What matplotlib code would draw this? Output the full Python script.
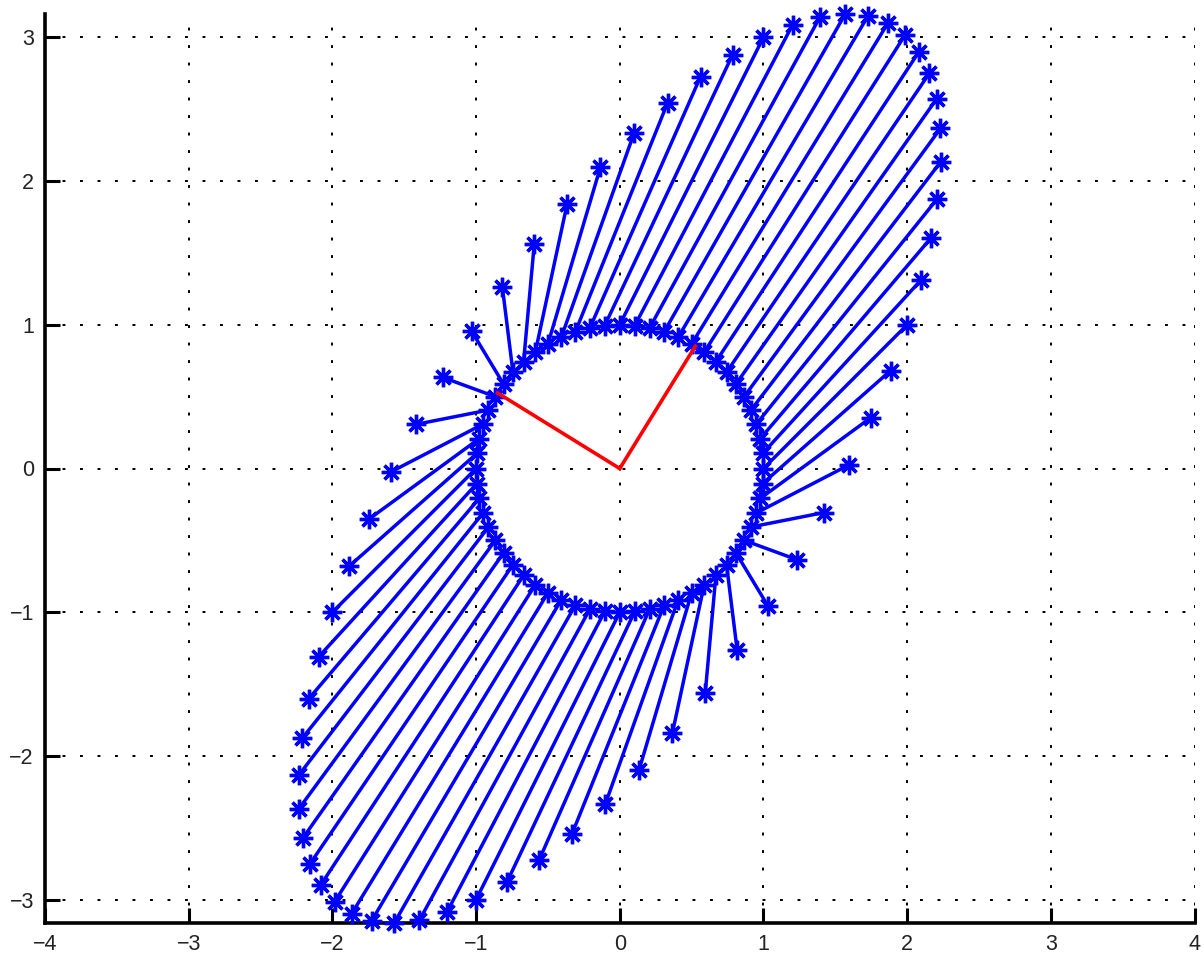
import matplotlib.pyplot as plt
import numpy as np

# matrix mapping the unit circle onto the ellipse (read from the picture:
# (1,0) -> (2,1), (0,1) -> (1,3))
A = np.array([[2.0, 1.0],
              [1.0, 3.0]])
step_deg = 6          # 60 vectors round the circle
x_ticks = [-4, -3, -2, -1, 0, 1, 2, 3, 4]
y_ticks = [-3, -2, -1, 0, 1, 2, 3]

plt.rcParams['font.family'] = ['Liberation Sans', 'DejaVu Sans']

theta = np.deg2rad(np.arange(0, 360, step_deg))
x = np.vstack([np.cos(theta), np.sin(theta)])
y = A @ x

# eigenvectors (red), with positive y component
w, v = np.linalg.eigh(A)
v = v * np.sign(v[1])

fig = plt.figure(figsize=(12.03, 9.57), dpi=100)
ax = fig.add_axes([45 / 1203, 34 / 957, 1149.5 / 1203, 909 / 957])

asterisk = (8, 2, 0)
for i in range(x.shape[1]):
    ax.plot([x[0, i], y[0, i]], [x[1, i], y[1, i]], color='#0000ff',
            linewidth=2.5, marker=asterisk, markersize=14,
            markeredgewidth=2.4, clip_on=False, zorder=3)

for j in range(2):
    ax.plot([0, v[0, j]], [0, v[1, j]], color='#ff0000', linewidth=2.6,
            zorder=4)

ax.set_xlim(-4, 4)
ax.set_ylim(-np.sqrt(10), np.sqrt(10))
ax.set_xticks(x_ticks)
ax.set_yticks(y_ticks)
ax.set_axisbelow(True)
ax.grid(True, color='k', linestyle=(0, (1.5, 7.5)), linewidth=1.4)

for s in ['top', 'right']:
    ax.spines[s].set_visible(False)
for s in ['left', 'bottom']:
    ax.spines[s].set_linewidth(2.6)

ax.tick_params(direction='in', length=10.5, width=2.2, labelsize=15.5,
               pad=8, labelcolor='#222222')

plt.savefig('out.png', dpi=100)
